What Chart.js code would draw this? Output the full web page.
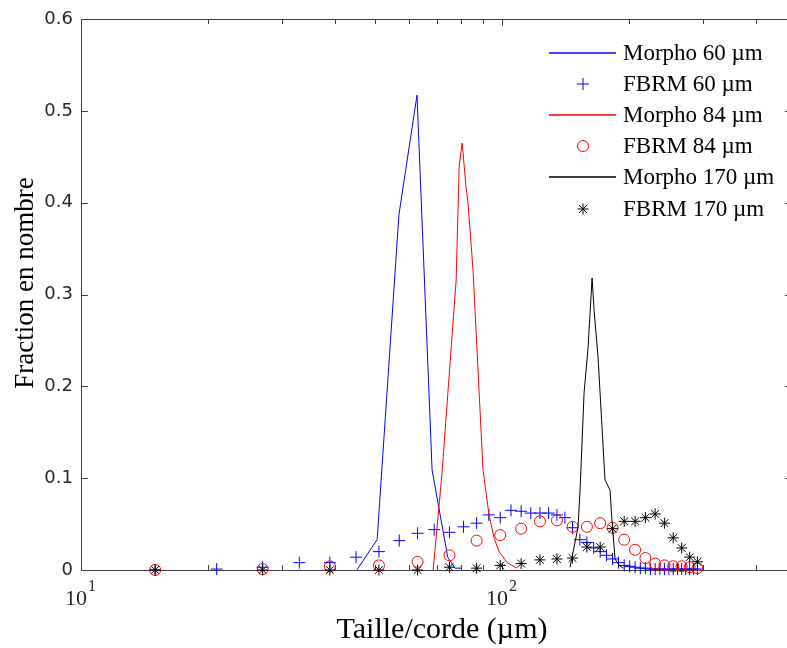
<!DOCTYPE html>
<html lang="fr">
<head>
<meta charset="UTF-8" />
<title>Fraction en nombre</title>
<script src="https://cdn.jsdelivr.net/npm/chart.js"></script>
<style>
  html, body { margin: 0; padding: 0; background: #fff; }
  canvas { display: block; }
</style>
</head>
<body>
<canvas id="chart" width="787" height="648"></canvas>
<script>
  // FBRM chord length channels (µm)
  const fbrmSizeFine = [15, 21, 27, 33, 39, 45, 51, 57, 63, 69, 75, 81, 87, 93, 99, 105, 111, 117, 123, 129,
    135, 141, 147, 153, 159, 165, 171, 177, 183, 189, 195, 201, 207, 213, 219, 225, 231, 237, 243, 249,
    255, 261, 267, 273, 279, 285, 291];
  const fbrm60 = [0, 0.001, 0.003, 0.008, 0.008, 0.014, 0.020, 0.032, 0.040, 0.044, 0.041, 0.047, 0.051, 0.060, 0.057, 0.065, 0.064, 0.062, 0.062, 0.062,
    0.060, 0.057, 0.046, 0.033, 0.030, 0.024, 0.020, 0.016, 0.012, 0.008, 0.005, 0.004, 0.003, 0.002, 0.002, 0.001, 0.001, 0.001, 0.001, 0.001,
    0.001, 0.001, 0.001, 0.001, 0.001, 0.001, 0.001];

  const fbrmSize = [15, 27, 39, 51, 63, 75, 87, 99, 111, 123, 135, 147, 159, 171, 183, 195, 207, 219, 231, 243, 255, 267, 279, 291];
  const fbrm84 = [0, 0.001, 0.004, 0.005, 0.009, 0.016, 0.032, 0.038, 0.045, 0.053, 0.054, 0.047, 0.047, 0.051, 0.046, 0.033, 0.022, 0.013, 0.007, 0.005, 0.004, 0.004, 0.003, 0.002];
  const fbrm170 = [0, 0, 0, 0, 0, 0.003, 0.002, 0.005, 0.007, 0.011, 0.012, 0.013, 0.025, 0.025, 0.045, 0.053, 0.053, 0.057, 0.061, 0.051, 0.035, 0.024, 0.014, 0.009];

  // image analysis (Morpho)
  const morphoSize60 = [45.2, 50.5, 56.9, 62.8, 68.2, 74.3, 77.3, 79.9];
  const morpho60 = [0, 0.033, 0.387, 0.517, 0.109, 0.014, 0.002, 0.002];
  const morphoSize84 = [68.6, 72.0, 77.8, 79.1, 80.4, 82.1, 83.0, 85.3, 90.1, 93.1, 95.7, 98.4, 102.8, 108.5];
  const morpho84 = [0, 0.105, 0.316, 0.44, 0.465, 0.417, 0.40, 0.327, 0.109, 0.06, 0.035, 0.02, 0.008, 0.002];
  const morphoSize170 = [145.0, 147.4, 151.5, 153.2, 156.6, 160.1, 163.6, 165.4, 169.0, 175.6, 180.5, 182.0, 185.5, 189.7, 193.8];
  const morpho170 = [0.003, 0.019, 0.047, 0.087, 0.193, 0.243, 0.318, 0.283, 0.232, 0.098, 0.087, 0.06, 0.012, 0.005, 0.002];

  const yTicks = [0, 0.1, 0.2, 0.3, 0.4, 0.5, 0.6];
  const xMajorTicks = [10, 100];
  const xMinorTicks = [20, 30, 40, 50, 60, 70, 80, 90, 200, 300, 400];

  const SERIF = '"Liberation Serif", "Times New Roman", serif';
  const AXIS = '#404040';
  const BLUE = '#0000ff', RED = '#ff0000', BLACK = '#000000';

  const pts = (xs, ys) => xs.map((x, i) => ({ x: x, y: ys[i] }));

  const lineSet = (label, xs, ys, color, order) => ({
    label, data: pts(xs, ys), showLine: true, borderColor: color, borderWidth: 1,
    pointRadius: 0, tension: 0, order, clip: false
  });
  const markSet = (label, xs, ys, color, style, r, order) => ({
    label, data: pts(xs, ys), showLine: false, borderColor: color, backgroundColor: 'rgba(0,0,0,0)',
    borderWidth: 1, pointStyle: style, pointRadius: r, order, clip: false
  });

  // legend entries, same order as the datasets
  const legendItems = [
    { text: 'Morpho 60 µm', color: BLUE, style: null },
    { text: 'FBRM 60 µm', color: BLUE, style: 'cross', r: 6 },
    { text: 'Morpho 84 µm', color: RED, style: null },
    { text: 'FBRM 84 µm', color: RED, style: 'circle', r: 5.5 },
    { text: 'Morpho 170 µm', color: BLACK, style: null },
    { text: 'FBRM 170 µm', color: BLACK, style: 'star', r: 5.5 }
  ];

  // axes box with inward ticks (under the data); labels, titles and legend on top
  const frame = {
    id: 'frame',
    beforeDatasetsDraw(chart) {
      const { ctx, chartArea: a, scales: { x, y } } = chart;
      ctx.save();
      ctx.strokeStyle = AXIS;
      ctx.lineWidth = 1;
      ctx.beginPath();
      ctx.moveTo(a.right, a.top + 0.5);
      ctx.lineTo(a.left + 0.5, a.top + 0.5);
      ctx.lineTo(a.left + 0.5, a.bottom + 0.5);
      ctx.lineTo(a.right, a.bottom + 0.5);
      yTicks.forEach(v => {
        const py = Math.round(y.getPixelForValue(v)) + 0.5;
        ctx.moveTo(a.left, py); ctx.lineTo(a.left + 7, py);
        ctx.moveTo(a.right, py); ctx.lineTo(a.right - 2, py);
      });
      const xt = (list, len) => list.forEach(v => {
        const px = Math.round(x.getPixelForValue(v)) + 0.5;
        ctx.moveTo(px, a.bottom); ctx.lineTo(px, a.bottom - len);
        ctx.moveTo(px, a.top); ctx.lineTo(px, a.top + len);
      });
      xt(xMajorTicks, 7);
      xt(xMinorTicks, 5);
      ctx.stroke();
      ctx.restore();
    },
    afterDraw(chart) {
      const { ctx, scales: { x } } = chart;
      ctx.save();
      ctx.fillStyle = '#262626';
      ctx.textBaseline = 'alphabetic';
      xMajorTicks.forEach(v => {
        const px = x.getPixelForValue(v);
        ctx.font = '22px ' + SERIF;
        ctx.textAlign = 'right';
        ctx.fillText('10', px + 6, 605);
        ctx.font = '16px ' + SERIF;
        ctx.textAlign = 'left';
        ctx.fillText(String(Math.round(Math.log10(v))), px + 7, 591);
      });

      // axis titles
      ctx.fillStyle = '#000';
      ctx.textAlign = 'center';
      ctx.font = '30px ' + SERIF;
      ctx.fillText('Taille/corde (µm)', 442, 638);
      ctx.save();
      ctx.translate(33, 283);
      ctx.rotate(-Math.PI / 2);
      ctx.font = '27px ' + SERIF;
      ctx.fillText('Fraction en nombre', 0, 0);
      ctx.restore();

      // legend
      ctx.font = '23px ' + SERIF;
      ctx.textAlign = 'left';
      legendItems.forEach((it, i) => {
        const ry = Math.round(53 + i * 31.1);
        ctx.strokeStyle = it.color;
        if (!it.style) {
          ctx.lineWidth = 1.4;
          ctx.beginPath();
          ctx.moveTo(549, ry);
          ctx.lineTo(616, ry);
          ctx.stroke();
        } else {
          ctx.lineWidth = 1;
          ctx.fillStyle = 'rgba(0,0,0,0)';
          Chart.helpers.drawPoint(ctx, { pointStyle: it.style, radius: it.r, rotation: 0, borderWidth: 1 }, 583, ry);
        }
        ctx.fillStyle = '#000';
        ctx.fillText(it.text, 623, ry + 7);
      });
      ctx.restore();
    }
  };

  new Chart(document.getElementById('chart'), {
    type: 'scatter',
    data: {
      datasets: [
        lineSet('Morpho 60 µm', morphoSize60, morpho60, BLUE, 6),
        markSet('FBRM 60 µm', fbrmSizeFine, fbrm60, BLUE, 'cross', 6, 5),
        lineSet('Morpho 84 µm', morphoSize84, morpho84, RED, 4),
        markSet('FBRM 84 µm', fbrmSize, fbrm84, RED, 'circle', 5.5, 3),
        lineSet('Morpho 170 µm', morphoSize170, morpho170, BLACK, 2),
        markSet('FBRM 170 µm', fbrmSize, fbrm170, BLACK, 'star', 5.5, 1)
      ]
    },
    options: {
      responsive: false,
      animation: false,
      layout: { autoPadding: false, padding: { top: 19, left: 0, right: 0, bottom: 0 } },
      plugins: { legend: { display: false }, tooltip: { enabled: false } },
      scales: {
        x: {
          type: 'logarithmic',
          min: 10,
          max: 475,
          grid: { display: false, drawTicks: false },
          border: { display: false },
          ticks: { display: false },
          title: { display: false },
          afterFit(scale) { scale.height = 78; }
        },
        y: {
          min: 0,
          max: 0.6,
          grid: { display: false, drawTicks: false },
          border: { display: false },
          afterBuildTicks(scale) { scale.ticks = yTicks.map(v => ({ value: v })); },
          ticks: {
            padding: 8,
            color: '#262626',
            font: { family: '"DejaVu Sans", sans-serif', size: 18 },
            callback: v => String(+v.toFixed(1))
          },
          title: { display: false },
          afterFit(scale) { scale.width = 81; }
        }
      }
    },
    plugins: [frame]
  });
</script>
</body>
</html>
